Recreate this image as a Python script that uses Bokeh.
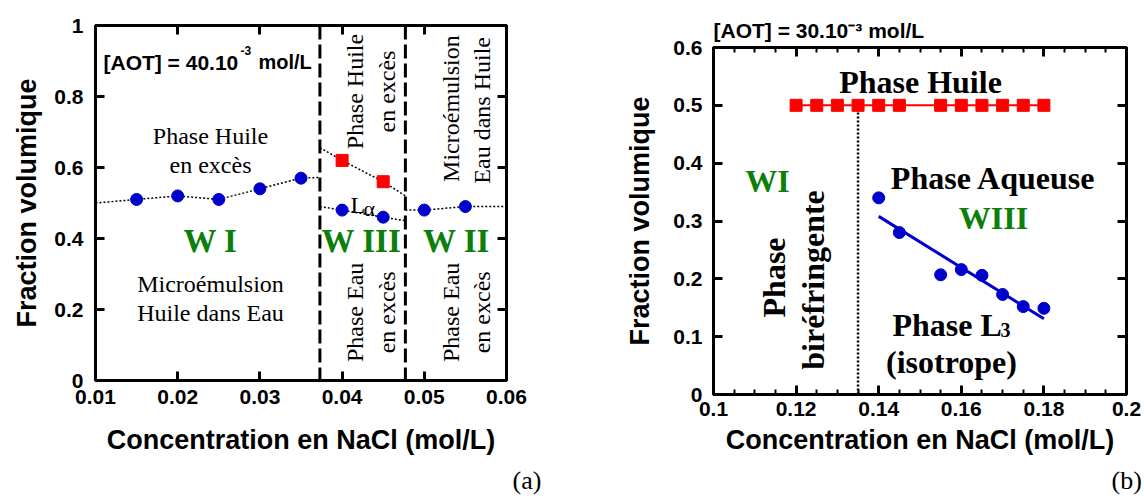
import math
from bokeh.plotting import figure
from bokeh.models import (Label, Span, FixedTicker, LinearAxis, Range1d,
                          CustomLabelingPolicy, Title)
from bokeh.layouts import row
from bokeh.embed import file_html
from bokeh.resources import INLINE

# ------------------------------------------------------------------ data (a)
a_xticks = [0.01, 0.02, 0.03, 0.04, 0.05, 0.06]
a_xtick_labels = ["0.01", "0.02", "0.03", "0.04", "0.05", "0.06"]
a_yticks = [0.0, 0.2, 0.4, 0.6, 0.8, 1.0]
a_ytick_labels = ["0", "0.2", "0.4", "0.6", "0.8", "1"]

wi_x = [0.015, 0.020, 0.025, 0.030, 0.035]
wi_y = [0.51, 0.52, 0.51, 0.54, 0.57]
wiii_x = [0.040, 0.045]
wiii_oil_y = [0.62, 0.56]          # red squares (upper boundary)
wiii_micro_y = [0.48, 0.46]        # blue circles (lower boundary)
wii_x = [0.050, 0.055]
wii_y = [0.48, 0.49]
a_bounds = [0.0373, 0.0477]        # dashed phase limits
# dotted guide lines: values at their left / right ends
wi_guide_ends = [0.50, 0.572]
wiii_oil_guide_ends = [0.656, 0.52]
wiii_micro_guide_ends = [0.49, 0.45]
wii_guide_ends = [0.48, 0.49]

# ------------------------------------------------------------------ data (b)
b_xticks = [0.10, 0.12, 0.14, 0.16, 0.18, 0.20]
b_xtick_labels = ["0.1", "0.12", "0.14", "0.16", "0.18", "0.2"]
b_xminor = [0.105, 0.11, 0.115, 0.125, 0.13, 0.135, 0.145, 0.15, 0.155,
            0.165, 0.17, 0.175, 0.185, 0.19, 0.195]
b_yticks = [0.0, 0.1, 0.2, 0.3, 0.4, 0.5, 0.6]
b_ytick_labels = ["0", "0.1", "0.2", "0.3", "0.4", "0.5", "0.6"]

oil_x = [0.12, 0.125, 0.13, 0.135, 0.14, 0.145, 0.155, 0.16, 0.165, 0.17, 0.175, 0.18]
oil_y = [0.5, 0.5, 0.5, 0.5, 0.5, 0.5, 0.5, 0.5, 0.5, 0.5, 0.5, 0.5]
l3_x = [0.14, 0.145, 0.155, 0.16, 0.165, 0.17, 0.175, 0.18]
l3_y = [0.34, 0.28, 0.207, 0.216, 0.206, 0.173, 0.152, 0.149]
fit_x = [0.14, 0.18]
fit_y = [0.308, 0.131]
b_bound_x = 0.135
b_bound_top = 0.5

SANS = "Liberation Sans"
SERIF = "Liberation Serif"
BLUE = "#0000cd"
RED = "#ff0000"
GREEN = "#0a800a"

NO_LABELS = CustomLabelingPolicy(
    code="const idx = [...indices]; for (const i of idx) { indices.unset(i) } return indices")


def style_axis(ax, minor):
    ax.axis_line_color = "black"
    ax.axis_line_width = 3
    ax.major_tick_in = 9
    ax.major_tick_out = 0
    ax.major_tick_line_width = 3
    ax.major_tick_line_color = "black"
    ax.minor_tick_in = 5
    ax.minor_tick_out = 0
    ax.minor_tick_line_width = 2
    ax.minor_tick_line_color = "black" if minor else None


def make_fig(xr, yr, fw, fh, borders, xt, xl, yt, yl, xminor=None,
             xstand=7, ystand=12, xlab_stand=16, ylab_stand=15):
    l, r, t, b = borders
    p = figure(x_range=Range1d(*xr), y_range=Range1d(*yr),
               frame_width=fw, frame_height=fh,
               min_border_left=l, min_border_right=r,
               min_border_top=t, min_border_bottom=b,
               output_backend="svg", toolbar_location=None, title=None)
    p.frame_align = False
    p.grid.visible = False
    p.outline_line_color = "black"
    p.outline_line_width = 3
    p.background_fill_color = "white"
    p.border_fill_color = "white"

    bottom = p.below[0]
    left = p.left[0]
    bottom.ticker = FixedTicker(ticks=xt, minor_ticks=xminor or [])
    left.ticker = FixedTicker(ticks=yt, minor_ticks=[])
    bottom.major_label_overrides = dict(zip(xt, xl))
    left.major_label_overrides = dict(zip(yt, yl))

    top = LinearAxis(ticker=FixedTicker(ticks=xt, minor_ticks=xminor or []))
    right = LinearAxis(ticker=FixedTicker(ticks=yt, minor_ticks=[]))
    for ax in [top, right]:
        ax.major_label_text_font_size = "2px"
        ax.major_label_standoff = 0
        ax.major_label_policy = NO_LABELS
    p.add_layout(top, "above")
    p.add_layout(right, "right")

    style_axis(bottom, bool(xminor))
    style_axis(top, bool(xminor))
    style_axis(left, False)
    style_axis(right, False)

    for ax, st in [(bottom, xstand), (left, ystand)]:
        ax.major_label_text_font = SANS
        ax.major_label_text_font_style = "bold"
        ax.major_label_text_font_size = "21px"
        ax.major_label_text_color = "black"
        ax.major_label_standoff = st
    bottom.axis_label = "Concentration en NaCl (mol/L)"
    left.axis_label = "Fraction volumique"
    for ax, st in [(bottom, xlab_stand), (left, ylab_stand)]:
        ax.axis_label_text_font = SANS
        ax.axis_label_text_font_style = "bold"
        ax.axis_label_text_font_size = "27px"
        ax.axis_label_text_color = "black"
        ax.axis_label_standoff = st
    return p


def txt(p, x, y, text, size, font=SERIF, style="normal", color="black",
        align="center", baseline="alphabetic", angle=0.0):
    p.add_layout(Label(x=x, y=y, text=text, text_font=font,
                       text_font_size=f"{size}px", text_font_style=style,
                       text_color=color, text_align=align,
                       text_baseline=baseline, angle=angle))


def side_title(p, text, place, size, offset, standoff, font=SERIF, style="normal"):
    p.add_layout(Title(text=text, align="left", offset=offset, standoff=standoff,
                       text_font=font, text_font_size=f"{size}px",
                       text_font_style=style, text_color="black"), place)


# ================================================================== panel (a)
pa = make_fig((a_xticks[0], a_xticks[-1]), (a_yticks[0], a_yticks[-1]),
              411, 355, (95, 102, 25, 120),
              a_xticks, a_xtick_labels, a_yticks, a_ytick_labels,
              xstand=9, ystand=12, xlab_stand=18, ylab_stand=9)

for b in a_bounds:
    pa.add_layout(Span(location=b, dimension="height", line_color="black",
                       line_width=3, line_dash="14 5"))

dot = dict(line_color="black", line_width=1.5, line_dash="2 2")
pa.line([a_xticks[0]] + wi_x + [a_bounds[0]],
        [wi_guide_ends[0]] + wi_y + [wi_guide_ends[1]], **dot)
pa.line([a_bounds[0]] + wiii_x + [a_bounds[1]],
        [wiii_oil_guide_ends[0]] + wiii_oil_y + [wiii_oil_guide_ends[1]], **dot)
pa.line([a_bounds[0]] + wiii_x + [a_bounds[1]],
        [wiii_micro_guide_ends[0]] + wiii_micro_y + [wiii_micro_guide_ends[1]], **dot)
pa.line([a_bounds[1]] + wii_x + [a_xticks[-1]],
        [wii_guide_ends[0]] + wii_y + [wii_guide_ends[1]], **dot)

pa.scatter(wi_x, wi_y, marker="circle", size=12, color=BLUE)
pa.scatter(wiii_x, wiii_micro_y, marker="circle", size=12, color=BLUE)
pa.scatter(wii_x, wii_y, marker="circle", size=12, color=BLUE)
pa.scatter(wiii_x, wiii_oil_y, marker="square", size=12, color=RED)

R90 = math.pi / 2
txt(pa, 0.01097, 0.896, "[AOT] = 40.10", 21, font=SANS, style="bold", align="left")
txt(pa, 0.02764, 0.930, "-3", 12, font=SANS, style="bold", align="left")
txt(pa, 0.02983, 0.896, "mol/L", 20, font=SANS, style="bold", align="left")
txt(pa, 0.02399, 0.690, "Phase Huile", 24)
txt(pa, 0.02399, 0.606, "en excès", 24)
txt(pa, 0.02399, 0.394, "W I", 33, style="bold", color=GREEN)
txt(pa, 0.02399, 0.273, "Microémulsion", 24)
txt(pa, 0.02399, 0.189, "Huile dans Eau", 24)
txt(pa, 0.04236, 0.394, "W III", 33, style="bold", color=GREEN)
txt(pa, 0.05392, 0.394, "W II", 33, style="bold", color=GREEN)
txt(pa, 0.04102, 0.493, "L", 24, align="left")
txt(pa, 0.04260, 0.4845, "α", 22, align="left")
txt(pa, 0.04163, 0.814, "Phase Huile", 24, angle=R90)
txt(pa, 0.04552, 0.814, "en excès", 24, angle=R90)
txt(pa, 0.05319, 0.766, "Microémulsion", 24, angle=R90)
txt(pa, 0.05708, 0.761, "Eau dans Huile", 24, angle=R90)
txt(pa, 0.04163, 0.192, "Phase Eau", 24, angle=R90)
txt(pa, 0.04552, 0.192, "en excès", 24, angle=R90)
txt(pa, 0.05319, 0.192, "Phase Eau", 24, angle=R90)
txt(pa, 0.05708, 0.192, "en excès", 24, angle=R90)
side_title(pa, "(a)", "below", 26, offset=417, standoff=12)

# ================================================================== panel (b)
pb = make_fig((b_xticks[0], b_xticks[-1]), (b_yticks[0], b_yticks[-1]),
              413, 347, (105, 16, 47, 106),
              b_xticks, b_xtick_labels, b_yticks, b_ytick_labels, xminor=b_xminor,
              xstand=7, ystand=11, xlab_stand=6, ylab_stand=15)

pb.segment(x0=[b_bound_x], y0=[b_yticks[0]], x1=[b_bound_x], y1=[b_bound_top],
           line_color="black", line_width=2.5, line_dash="2 2")
pb.line(oil_x, oil_y, line_color=RED, line_width=2)
pb.scatter(oil_x, oil_y, marker="square", size=12, color=RED)
pb.line(fit_x, fit_y, line_color=BLUE, line_width=3)
pb.scatter(l3_x, l3_y, marker="circle", size=12, color=BLUE)

side_title(pb, "[AOT] = 30.10⁻³ mol/L", "above", 21, offset=0, standoff=4,
           font=SANS, style="bold")
txt(pb, 0.15012, 0.540, "Phase Huile", 32, style="bold")
txt(pb, 0.11308, 0.370, "WI", 32, style="bold", color=GREEN)
txt(pb, 0.16780, 0.375, "Phase Aqueuse", 32, style="bold")
txt(pb, 0.16780, 0.306, "WIII", 32, style="bold", color=GREEN)
txt(pb, 0.11453, 0.2024, "Phase", 32, style="bold", angle=R90)
txt(pb, 0.12421, 0.1981, "biréfringente", 32, style="bold", angle=R90)
txt(pb, 0.14334, 0.1194, "Phase L", 32, style="bold", align="left")
txt(pb, 0.16949, 0.1107, "3", 20, style="bold", align="left")
txt(pb, 0.15763, 0.0554, "(isotrope)", 32, style="bold")
side_title(pb, "(b)", "below", 26, offset=398, standoff=12)

layout = row(pa, pb)
with open("out.html", "w") as f:
    f.write(file_html(layout, INLINE))
